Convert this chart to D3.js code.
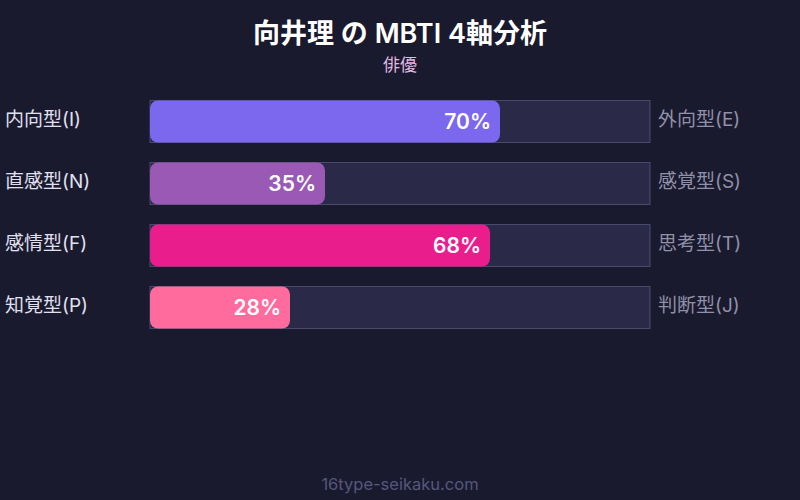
<!DOCTYPE html>
<html><head><meta charset="utf-8">
<script src="https://cdn.jsdelivr.net/npm/d3@7"></script>
<style>body{margin:0;background:#1a1a2e;}svg{display:block;}</style>
</head><body>
<svg id="c" width="800" height="500"></svg>
<script>
const leftLabels = ["内向型(I)", "直感型(N)", "感情型(F)", "知覚型(P)"];
const rightLabels = ["外向型(E)", "感覚型(S)", "思考型(T)", "判断型(J)"];
const values = [70, 35, 68, 28];
const colors = ["#7b68ee", "#9b59b6", "#e91e8c", "#ff6b9d"];
const titleText = "向井理 の MBTI 4軸分析";
const subtitleText = "俳優";
const footerText = "16type-seikaku.com";

const font = "'Inter','Noto Sans CJK JP',sans-serif";
const svg = d3.select("#c");
svg.append("rect").attr("width", 800).attr("height", 500).attr("fill", "#1a1a2e");

const x = d3.scaleLinear().domain([0, 100]).range([150, 650]);
const y = d3.scaleBand().domain(d3.range(values.length)).range([100, 328]).paddingInner(20/62).paddingOuter(0);

svg.append("text").attr("x", 400).attr("y", 43).attr("text-anchor", "middle")
  .attr("font-family", font).attr("font-weight", 600).attr("font-size", 27).attr("fill", "#ffffff").text(titleText);
svg.append("text").attr("x", 400).attr("y", 71).attr("text-anchor", "middle")
  .attr("font-family", font).attr("font-size", 17).attr("fill", "#e0b8e0").text(subtitleText);

const g = svg.selectAll("g.row").data(values).enter().append("g").attr("class", "row");
g.append("rect").attr("x", x(0)).attr("y", (d, i) => y(i) + 0.5).attr("width", x(100) - x(0)).attr("height", y.bandwidth())
  .attr("fill", "#2a2a48").attr("stroke", "#4a4a6e").attr("stroke-width", 1);
g.append("rect").attr("x", x(0)).attr("y", (d, i) => y(i) + 0.5).attr("width", d => x(d) - x(0)).attr("height", y.bandwidth())
  .attr("rx", 8).attr("fill", (d, i) => colors[i]);
g.append("text").attr("x", d => x(d) - 9).attr("y", (d, i) => y(i) + y.bandwidth() / 2 + 7.5)
  .attr("text-anchor", "end").attr("font-family", font).attr("font-weight", 600).attr("font-size", 21)
  .attr("fill", "#ffffff").text(d => d + "%");
g.append("text").attr("x", 5).attr("y", (d, i) => y(i) + y.bandwidth() / 2 + 5)
  .attr("font-family", font).attr("font-size", 19).attr("fill", "#e0e0f0").text((d, i) => leftLabels[i]);
g.append("text").attr("x", 658).attr("y", (d, i) => y(i) + y.bandwidth() / 2 + 5)
  .attr("font-family", font).attr("font-size", 19).attr("fill", "#9090a8").text((d, i) => rightLabels[i]);

svg.append("text").attr("x", 400).attr("y", 490).attr("text-anchor", "middle")
  .attr("font-family", font).attr("font-size", 16.5).attr("fill", "#55577c").text(footerText);
</script>
</body></html>
